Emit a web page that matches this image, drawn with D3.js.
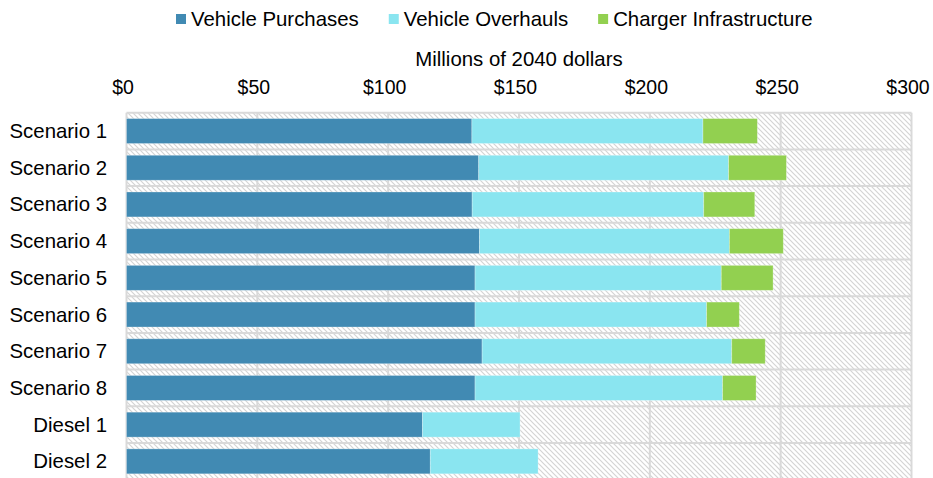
<!DOCTYPE html>
<html>
<head>
<meta charset="utf-8">
<script src="https://cdn.jsdelivr.net/npm/d3@7"></script>
<style>
  html, body { margin: 0; padding: 0; background: #fff; }
  svg { display: block; font-family: "Liberation Sans", Arial, sans-serif; }
</style>
</head>
<body>
<svg id="chart" width="933" height="478"></svg>
<script>
// data (millions of 2040 dollars)
var categories = ['Scenario 1', 'Scenario 2', 'Scenario 3', 'Scenario 4', 'Scenario 5',
                  'Scenario 6', 'Scenario 7', 'Scenario 8', 'Diesel 1', 'Diesel 2'];
var seriesNames = ['Vehicle Purchases', 'Vehicle Overhauls', 'Charger Infrastructure'];
var vehiclePurchases = [132.0, 134.6, 132.1, 134.9, 133.2, 133.2, 135.9, 133.2, 113.1, 116.1];
var vehicleOverhauls = [88.3, 95.5, 88.5, 95.5, 94.1, 88.5, 95.4, 94.6, 37.3, 41.2];
var chargerInfrastructure = [20.8, 22.1, 19.5, 20.6, 19.8, 12.5, 12.8, 12.8, 0, 0];
var tickValues = [0, 50, 100, 150, 200, 250, 300];
var axisTitle = 'Millions of 2040 dollars';

var colors = ['#418ab3', '#8ae5f0', '#92d050'];
var fontSize = '20.4px';

var svg = d3.select('#chart');

/**
 * Scales
 */
var plotTop = 112.7;
var x = d3.scaleLinear()
  .domain([0, 300])
  .range([126.5, 911.5]);

var y = d3.scaleBand()
  .domain(categories)
  .range([plotTop, plotTop + 367])
  .paddingInner(0.32)
  .paddingOuter(0.16);

var table = categories.map(function (c, i) {
  return {
    category: c,
    'Vehicle Purchases': vehiclePurchases[i],
    'Vehicle Overhauls': vehicleOverhauls[i],
    'Charger Infrastructure': chargerInfrastructure[i]
  };
});
var stacked = d3.stack().keys(seriesNames)(table);

/**
 * Hatched plot background
 */
var defs = svg.append('defs');
defs.append('pattern')
  .attr('id', 'hatch')
  .attr('patternUnits', 'userSpaceOnUse')
  .attr('width', 5)
  .attr('height', 5)
  .append('path')
  .attr('d', 'M0,0L5,5M-1,4L1,6M4,-1L6,1')
  .attr('stroke', '#d4d4d4')
  .attr('stroke-width', 1.2);

svg.append('rect')
  .attr('x', x(0))
  .attr('y', plotTop)
  .attr('width', x(300) - x(0))
  .attr('height', y.step() * categories.length)
  .attr('fill', 'url(#hatch)');

// grid lines
var grid = svg.append('g').attr('class', 'grid')
  .attr('stroke', '#d9d9d9')
  .attr('stroke-width', 2);

grid.selectAll('line.v')
  .data(tickValues)
  .enter()
  .append('line')
  .attr('class', 'v')
  .attr('x1', function (d) { return x(d); })
  .attr('x2', function (d) { return x(d); })
  .attr('y1', plotTop)
  .attr('y2', plotTop + y.step() * categories.length);

grid.selectAll('line.h')
  .data(d3.range(categories.length + 1))
  .enter()
  .append('line')
  .attr('class', 'h')
  .attr('x1', x(0))
  .attr('x2', x(300))
  .attr('y1', function (i) { return plotTop + i * y.step(); })
  .attr('y2', function (i) { return plotTop + i * y.step(); });

/**
 * Bars
 */
var layers = svg.append('g')
  .selectAll('g.layer')
  .data(stacked)
  .enter()
  .append('g')
  .attr('class', 'layer')
  .attr('fill', function (d, i) { return colors[i]; });

layers.selectAll('rect')
  .data(function (d) { return d; })
  .enter()
  .append('rect')
  .attr('x', function (d) { return x(d[0]); })
  .attr('width', function (d) { return Math.max(0, x(d[1]) - x(d[0])); })
  .attr('y', function (d) { return y(d.data.category); })
  .attr('height', y.bandwidth())
  .attr('stroke', 'rgba(255,255,255,0.35)')
  .attr('stroke-width', function (d) { return d[1] > d[0] ? 0.8 : 0; });

/**
 * Axes
 */
var xAxis = svg.append('g')
  .attr('transform', 'translate(0,' + plotTop + ')')
  .call(d3.axisTop(x)
    .tickValues(tickValues)
    .tickFormat(d3.format('$'))
    .tickSize(0)
    .tickPadding(18.5));
xAxis.select('.domain').remove();
xAxis.selectAll('text')
  .attr('dy', '0em')
  .attr('dx', -4)
  .style('font-size', '19.5px')
  .style('font-family', '"Liberation Sans", Arial, sans-serif')
  .attr('fill', '#000');

svg.append('text')
  .attr('x', (x(0) + x(300)) / 2)
  .attr('y', 66)
  .attr('text-anchor', 'middle')
  .style('font-size', fontSize)
  .text(axisTitle);

svg.append('g')
  .selectAll('text')
  .data(categories)
  .enter()
  .append('text')
  .attr('x', 107)
  .attr('y', function (d) { return y(d) + y.bandwidth() / 2 + 7; })
  .attr('text-anchor', 'end')
  .style('font-size', fontSize)
  .text(function (d) { return d; });

/**
 * Legend
 */
var legend = svg.append('g').attr('class', 'legend');
var lx = 176;
seriesNames.forEach(function (name, i) {
  legend.append('rect')
    .attr('x', lx)
    .attr('y', 14)
    .attr('width', 10)
    .attr('height', 10)
    .attr('fill', colors[i]);
  var t = legend.append('text')
    .attr('x', lx + 15)
    .attr('y', 26)
    .style('font-size', fontSize)
    .text(name);
  lx += 15 + t.node().getComputedTextLength() + 30;
});
</script>
</body>
</html>
